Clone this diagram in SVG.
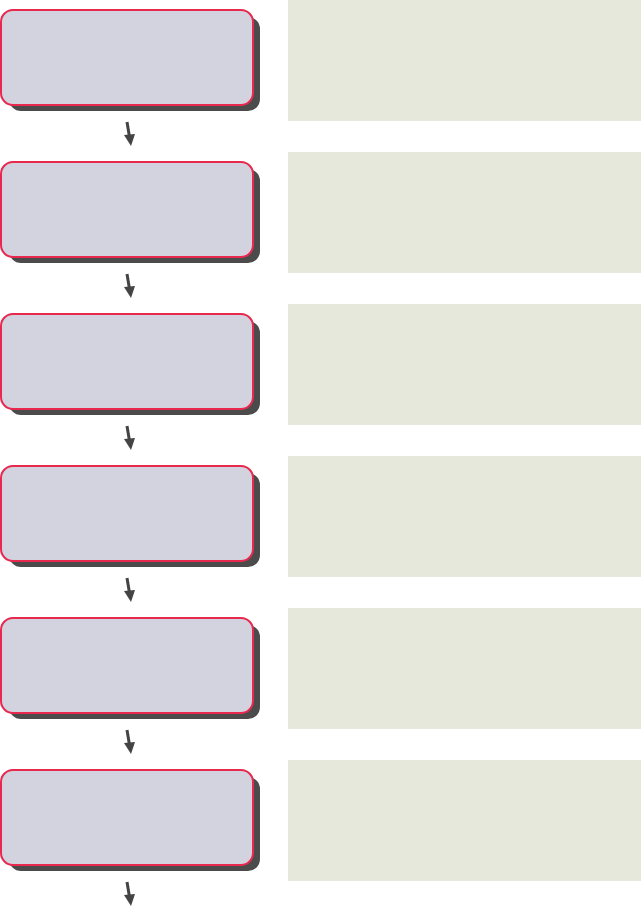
<svg xmlns="http://www.w3.org/2000/svg" width="641" height="906" viewBox="0 0 641 906">
<style>
.panel{fill:#e5e8da}
.shadow{fill:#4b4b4b}
.box{fill:#d3d3df;stroke:#e8284f;stroke-width:2}
.arr{stroke:#444;stroke-width:3;fill:none}
.head{fill:#444}
</style>
<defs>
<g id="arrow">
<path class="arr" d="M127,122 L129.5,137"/>
<path class="head" d="M124,135 L135,134 L131,146 Z"/>
</g>
</defs>
<g id="panels">
<rect class="panel" x="288" y="0" width="353" height="121"/>
<rect class="panel" x="288" y="152" width="353" height="121"/>
<rect class="panel" x="288" y="304" width="353" height="121"/>
<rect class="panel" x="288" y="456" width="353" height="121"/>
<rect class="panel" x="288" y="608" width="353" height="121"/>
<rect class="panel" x="288" y="760" width="353" height="121"/>
</g>
<g id="node1"><rect class="shadow" x="9" y="17" width="251" height="94" rx="12"/><rect class="box" x="1" y="10" width="252" height="95" rx="12"/></g>
<g id="node2" transform="translate(0,152)"><rect class="shadow" x="9" y="17" width="251" height="94" rx="12"/><rect class="box" x="1" y="10" width="252" height="95" rx="12"/></g>
<g id="node3" transform="translate(0,304)"><rect class="shadow" x="9" y="17" width="251" height="94" rx="12"/><rect class="box" x="1" y="10" width="252" height="95" rx="12"/></g>
<g id="node4" transform="translate(0,456)"><rect class="shadow" x="9" y="17" width="251" height="94" rx="12"/><rect class="box" x="1" y="10" width="252" height="95" rx="12"/></g>
<g id="node5" transform="translate(0,608)"><rect class="shadow" x="9" y="17" width="251" height="94" rx="12"/><rect class="box" x="1" y="10" width="252" height="95" rx="12"/></g>
<g id="node6" transform="translate(0,760)"><rect class="shadow" x="9" y="17" width="251" height="94" rx="12"/><rect class="box" x="1" y="10" width="252" height="95" rx="12"/></g>
<g id="connectors">
<use href="#arrow"/>
<use href="#arrow" transform="translate(0,152)"/>
<use href="#arrow" transform="translate(0,304)"/>
<use href="#arrow" transform="translate(0,456)"/>
<use href="#arrow" transform="translate(0,608)"/>
<use href="#arrow" transform="translate(0,760)"/>
</g>
</svg>
